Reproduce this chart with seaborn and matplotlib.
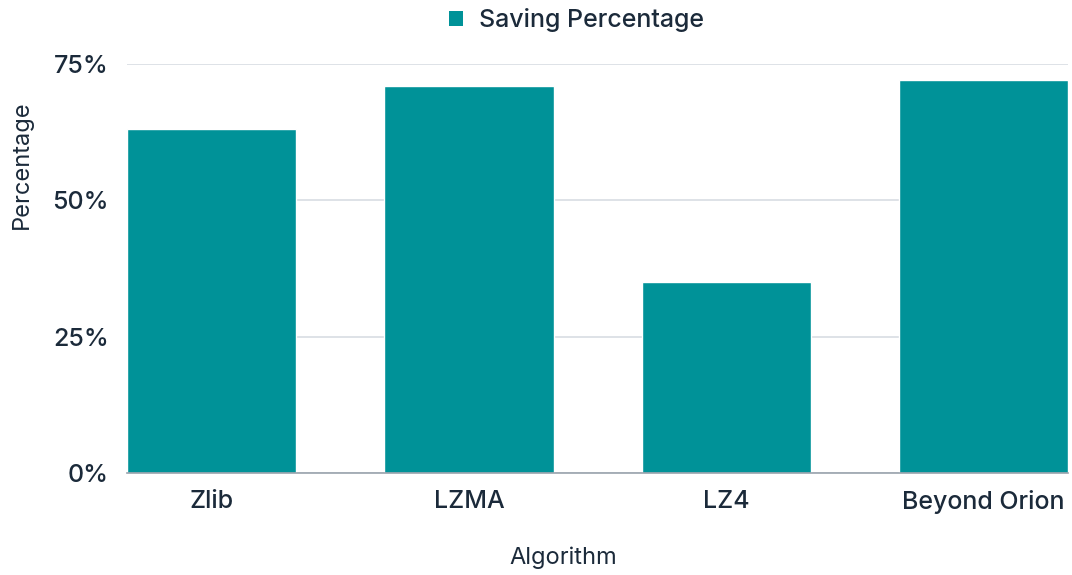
import matplotlib
matplotlib.use("Agg")
import matplotlib.pyplot as plt
import seaborn as sns
import pandas as pd
from matplotlib.ticker import FuncFormatter
from matplotlib.patches import Patch

algorithms = ["Zlib", "LZMA", "LZ4", "Beyond Orion"]
saving_pct = [63, 71, 35, 72]
y_ticks = [0, 25, 50, 75]

BAR = "#009298"
TEXT = "#1b2a3a"
GRID = "#d8dde3"
BAR_W = 0.657

sns.set_theme(style="white")
plt.rcParams["font.family"] = ["Inter", "DejaVu Sans"]
plt.rcParams["font.weight"] = "medium"

df = pd.DataFrame({"Algorithm": algorithms, "Saving": saving_pct})

fig = plt.figure(figsize=(10.72, 5.75), dpi=100)
ax = fig.add_axes([0.1185, 0.1774, 0.878, 0.7113])

sns.barplot(data=df, x="Algorithm", y="Saving", color=BAR, width=BAR_W,
            saturation=1, ax=ax, zorder=3)

ax.set_xlim(-BAR_W / 2, len(algorithms) - 1 + BAR_W / 2)
ax.set_ylim(0, 75)
ax.set_yticks(y_ticks)
ax.yaxis.set_major_formatter(FuncFormatter(lambda v, p: f"{v:.0f}%"))
ax.grid(axis="y", color=GRID, linewidth=1.2, zorder=0)
ax.grid(axis="x", visible=False)
for s in ["top", "right", "left"]:
    ax.spines[s].set_visible(False)
ax.spines["bottom"].set_color("#9aa3ad")
ax.spines["bottom"].set_linewidth(1.2)
ax.spines["bottom"].set_zorder(4)

ax.tick_params(axis="both", length=0, labelsize=18, colors=TEXT)
ax.tick_params(axis="y", pad=13)
ax.tick_params(axis="x", pad=12)

ax.set_xlabel("Algorithm", fontsize=17, color=TEXT)
ax.set_ylabel("Percentage", fontsize=17, color=TEXT)
ax.xaxis.set_label_coords(0.463, -0.208)
ax.xaxis.label.set_va("center")
ax.yaxis.set_label_coords(-0.1116, 0.753)
ax.yaxis.label.set_va("center")

handle = Patch(facecolor=BAR, edgecolor="none", label="Saving Percentage")
fig.legend(handles=[handle], loc="center", bbox_to_anchor=(0.538, 0.965),
           frameon=False, fontsize=18, handlelength=0.55, handleheight=0.55,
           handletextpad=0.65, labelcolor=TEXT)

fig.savefig("out.png", dpi=100)
